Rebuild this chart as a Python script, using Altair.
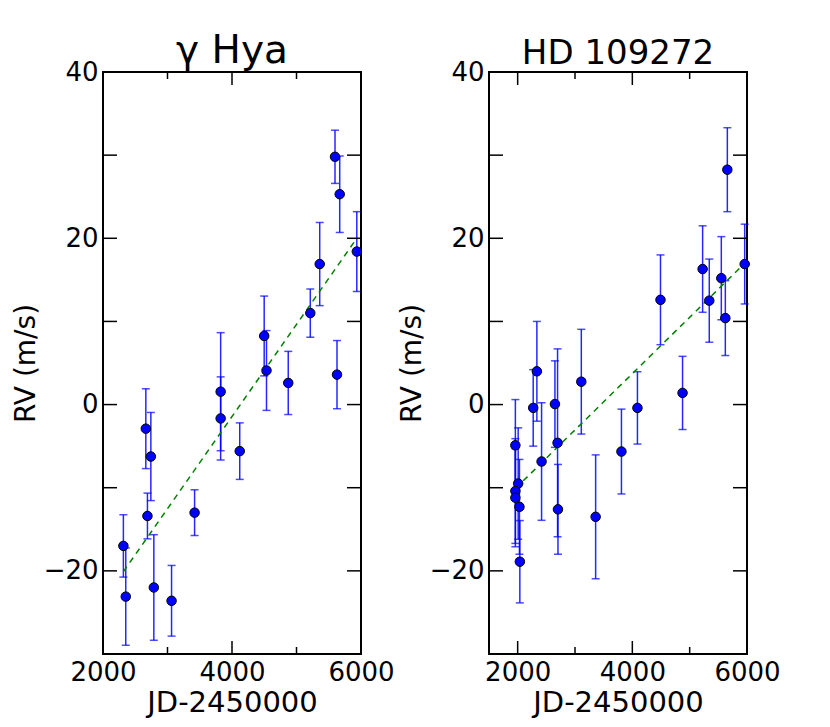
import altair as alt
import pandas as pd

# ---- gamma Hya ----
hya_jd = [2316, 2353, 2664, 2689, 2742, 2788, 3063, 3420, 3824, 3824,
          4120, 4499, 4535, 4872, 5214, 5360, 5597, 5628, 5670, 5935]
hya_rv = [-17.0, -23.1, -2.9, -13.4, -6.25, -22.0, -23.6, -13.0, 1.55, -1.67,
          -5.6, 8.25, 4.1, 2.6, 11.0, 16.9, 29.8, 3.6, 25.3, 18.4]
hya_err = [3.75, 5.85, 4.8, 2.75, 5.3, 6.35, 4.25, 2.75, 7.1, 5.0,
           3.4, 4.8, 4.8, 3.8, 2.9, 5.0, 3.2, 4.1, 4.6, 4.8]
hya_fit_jd = [2316, 5935]
hya_fit_rv = [-20.1, 20.0]

# ---- HD 109272 ----
hd_jd = [1960, 2009, 1960, 1960, 2031, 2038, 2271, 2335, 2417, 2650, 2696, 2703,
         3110, 3360, 3810, 4089, 4491, 4876, 5226, 5342, 5552, 5622, 5657, 5960]
hd_rv = [-4.9, -9.5, -10.4, -11.2, -12.3, -18.9, -0.4, 4.0, -6.85, 0.06, -4.6, -12.6,
         2.75, -13.5, -5.65, -0.4, 12.6, 1.4, 16.3, 12.5, 15.2, 10.4, 28.25, 16.9]
hd_err = [5.5, 6.7, 6.3, 5.9, 5.7, 4.95, 4.6, 6.0, 7.07, 5.2, 11.3, 5.4,
          6.3, 7.45, 5.1, 4.35, 5.4, 4.4, 5.2, 5.0, 5.0, 4.5, 5.05, 4.8]
hd_fit_jd = [1960, 5960]
hd_fit_rv = [-10.1, 17.0]

# ---- axis ticks ----
x_major = [2000, 4000, 6000]
x_minor = [3000, 5000]
y_ticks = [-20, -10, 0, 10, 20, 30]
y_labels = [-20, 0, 20, 40]
y_domain = [-30, 40]

FONT = "DejaVu Sans"
W, H = 258, 582


def panel(jd, rv, err, fit_jd, fit_rv, xdom, title, title_size):
    pts = pd.DataFrame({"jd": jd, "rv": rv, "err": err})
    fit = pd.DataFrame({"jd": fit_jd, "rv": fit_rv})
    xs = alt.Scale(domain=xdom, nice=False, zero=False)
    ys = alt.Scale(domain=y_domain, nice=False, zero=False)
    x_axis = alt.Axis(title="JD-2450000", values=x_major, format="d", ticks=False,
                      domain=False, grid=False, labelFontSize=26, titleFontSize=29,
                      labelPadding=5, titlePadding=3, titleFontWeight="normal",
                      labelFlush=False, labelOverlap=False,
                      labelColor="black", titleColor="black", labelFont=FONT, titleFont=FONT)
    y_axis = alt.Axis(title="RV (m/s)", values=y_labels, format="d", ticks=False,
                      domain=False, grid=False, labelFontSize=26, titleFontSize=28,
                      labelPadding=5, titlePadding=3, titleFontWeight="normal",
                      labelFlush=False, labelOverlap=False,
                      labelColor="black", titleColor="black", labelFont=FONT, titleFont=FONT)

    X = lambda f: alt.X(f"{f}:Q", scale=xs, axis=x_axis)
    Y = lambda f: alt.Y(f"{f}:Q", scale=ys, axis=y_axis)

    base = alt.Chart(pts).transform_calculate(
        lo="datum.rv - datum.err", hi="datum.rv + datum.err")

    bars = base.mark_rule(color="blue", strokeWidth=1.5, opacity=0.85).encode(
        x=X("jd"), y=Y("lo"), y2="hi:Q")
    cap_lo = base.mark_tick(orient="horizontal", size=8, thickness=1.5,
                            color="blue", opacity=0.7).encode(x=X("jd"), y=Y("lo"))
    cap_hi = base.mark_tick(orient="horizontal", size=8, thickness=1.5,
                            color="blue", opacity=0.7).encode(x=X("jd"), y=Y("hi"))
    line = alt.Chart(fit).mark_line(color="green", strokeDash=[6, 5], strokeWidth=1.5).encode(
        x=X("jd"), y=Y("rv"))
    dots = base.mark_circle(size=90, color="blue", stroke="black", strokeWidth=1,
                            opacity=1).encode(x=X("jd"), y=Y("rv"))

    xmaj = alt.Chart(pd.DataFrame({"t": x_major}))
    xmin = alt.Chart(pd.DataFrame({"t": x_minor}))
    yt = alt.Chart(pd.DataFrame({"t": y_ticks}))
    tk = dict(color="black", strokeWidth=1.5)
    ticks = [
        xmaj.mark_rule(**tk).encode(x=X("t"), y=alt.value(H), y2=alt.value(H - 13)),
        xmaj.mark_rule(**tk).encode(x=X("t"), y=alt.value(0), y2=alt.value(13)),
        xmin.mark_rule(**tk).encode(x=X("t"), y=alt.value(H), y2=alt.value(H - 7)),
        xmin.mark_rule(**tk).encode(x=X("t"), y=alt.value(0), y2=alt.value(7)),
        yt.mark_rule(**tk).encode(y=Y("t"), x=alt.value(0), x2=alt.value(14)),
        yt.mark_rule(**tk).encode(y=Y("t"), x=alt.value(W), x2=alt.value(W - 14)),
    ]

    return alt.layer(bars, cap_lo, cap_hi, line, dots, *ticks).properties(
        width=W, height=H,
        title=alt.TitleParams(title, fontSize=title_size, font=FONT, fontWeight="normal",
                              color="black", offset=-12))


left = panel(hya_jd, hya_rv, hya_err, hya_fit_jd, hya_fit_rv, [2000, 6000], "γ Hya", 39)
right = panel(hd_jd, hd_rv, hd_err, hd_fit_jd, hd_fit_rv, [1500, 6000], "HD 109272", 34)

chart = alt.hconcat(left, right, spacing=128, bounds="flush").configure(
    font=FONT, padding={"left": 3, "top": 23, "right": 5, "bottom": 0}
).configure_view(
    stroke="black", strokeWidth=2
).properties(background="white")

chart.save("out.html", embed_options={"renderer": "svg", "actions": False})
